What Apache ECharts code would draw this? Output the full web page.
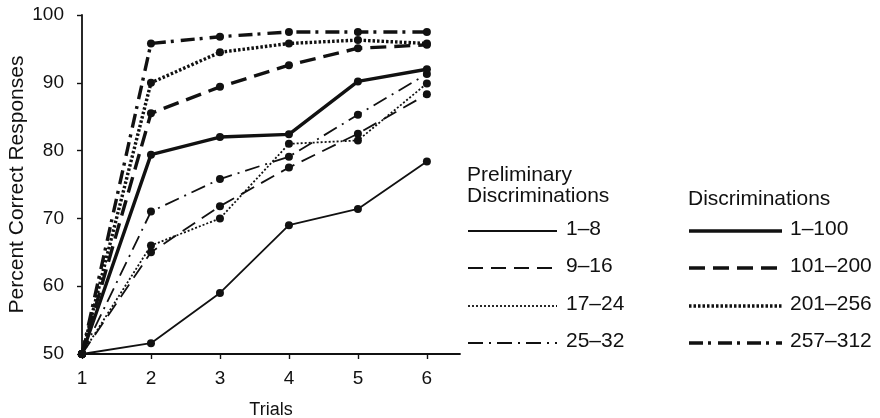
<!DOCTYPE html>
<html>
<head>
<meta charset="utf-8">
<script src="https://cdn.jsdelivr.net/npm/echarts@6/dist/echarts.min.js"></script>
<style>html,body{margin:0;padding:0;background:#fff}#c{width:880px;height:418px}</style>
</head>
<body>
<div id="c"></div>
<script>
// ---- data ----
const trials = [1, 2, 3, 4, 5, 6];
const yTicks = [50, 60, 70, 80, 90, 100];
const prelim_1_8   = [50, 51.6, 59.0, 69.0, 71.4, 78.4];
const prelim_9_16  = [50, 65.0, 71.8, 77.5, 82.5, 88.3];
const prelim_17_24 = [50, 66.0, 70.0, 81.0, 81.5, 89.9];
const prelim_25_32 = [50, 71.0, 75.8, 79.1, 85.3, 91.3];
const disc_1_100   = [50, 79.4, 82.0, 82.4, 90.2, 92.0];
const disc_101_200 = [50, 85.5, 89.4, 92.6, 95.1, 95.6];
const disc_201_256 = [50, 90.0, 94.5, 95.8, 96.3, 95.8];
const disc_257_312 = [50, 95.8, 96.8, 97.5, 97.5, 97.5];
const prelimNames = ['1–8', '9–16', '17–24', '25–32'];
const discNames = ['1–100', '101–200', '201–256', '257–312'];

const INK = '#111';
const FONT = 'Liberation Sans, Arial, sans-serif';
const thin = 1.8, thick = 3.4;
const dashes = {
  solid: 'solid',
  dashedThin: [15, 8],
  dashedThick: [16, 8],
  dottedThin: [2, 2],
  dottedThick: [2.5, 2],
  dashDotThin: [15, 6, 2, 6],
  dashDotThick: [14, 5, 3, 7]
};
const seriesDefs = [
  {name: 'Preliminary ' + prelimNames[0], data: prelim_1_8, w: thin, t: dashes.solid},
  {name: 'Preliminary ' + prelimNames[1], data: prelim_9_16, w: thin, t: dashes.dashedThin},
  {name: 'Preliminary ' + prelimNames[2], data: prelim_17_24, w: thin, t: dashes.dottedThin},
  {name: 'Preliminary ' + prelimNames[3], data: prelim_25_32, w: thin, t: dashes.dashDotThin},
  {name: 'Discriminations ' + discNames[0], data: disc_1_100, w: thick, t: dashes.solid},
  {name: 'Discriminations ' + discNames[1], data: disc_101_200, w: thick, t: dashes.dashedThick},
  {name: 'Discriminations ' + discNames[2], data: disc_201_256, w: thick, t: dashes.dottedThick},
  {name: 'Discriminations ' + discNames[3], data: disc_257_312, w: thick, t: dashes.dashDotThick}
];

const series = seriesDefs.map(d => ({
  type: 'line',
  name: d.name,
  data: trials.map((t, i) => [t, d.data[i]]),
  symbol: 'circle',
  symbolSize: 8,
  showSymbol: true,
  itemStyle: {color: INK},
  lineStyle: {color: INK, width: d.w, type: d.t},
  clip: false,
  animation: false
}));

// legend drawn as graphic
const LFS = 21;
const graphics = [];
const txt = (x, y, s) => ({type: 'text', left: x, top: y, style: {text: s, fill: INK, font: LFS + 'px ' + FONT}});
graphics.push(txt(467, 165, 'Preliminary'));
graphics.push(txt(467, 186, 'Discriminations'));
graphics.push(txt(688, 189, 'Discriminations'));
const rowY = [231, 268, 306, 343];
const leftDash = [dashes.solid, dashes.dashedThin, dashes.dottedThin, dashes.dashDotThin];
const rightDash = [dashes.solid, dashes.dashedThick, dashes.dottedThick, dashes.dashDotThick];
rowY.forEach((y, i) => {
  graphics.push({type: 'line', shape: {x1: 468, y1: y, x2: 557, y2: y},
    style: {stroke: INK, lineWidth: thin, lineDash: leftDash[i] === 'solid' ? null : leftDash[i]}});
  graphics.push(txt(566, y - 12, prelimNames[i]));
  graphics.push({type: 'line', shape: {x1: 689, y1: y, x2: 782, y2: y},
    style: {stroke: INK, lineWidth: thick, lineDash: rightDash[i] === 'solid' ? null : rightDash[i]}});
  graphics.push(txt(790, y - 12, discNames[i]));
});

const chart = echarts.init(document.getElementById('c'), null, {renderer: 'canvas'});
chart.setOption({
  animation: false,
  backgroundColor: '#fff',
  grid: {left: 82, right: 420, top: 15, bottom: 64, containLabel: false, outerBoundsMode: 'none'},
  xAxis: {
    type: 'value', min: 1, max: 6.48, interval: 1,
    name: 'Trials', nameLocation: 'middle', nameGap: 47,
    nameTextStyle: {color: INK, fontSize: 18, fontFamily: FONT},
    axisLine: {show: true, onZero: false, lineStyle: {color: INK, width: 1.8}},
    axisTick: {show: true, length: 5, customValues: trials, lineStyle: {color: INK, width: 1.4}},
    axisLabel: {customValues: trials, color: INK, fontSize: 19, fontFamily: FONT, margin: 15},
    splitLine: {show: false}
  },
  yAxis: {
    type: 'value', min: 50, max: 100, interval: 10,
    name: 'Percent Correct Responses', nameLocation: 'middle', nameGap: 54, nameRotate: 90,
    nameTextStyle: {color: INK, fontSize: 21, fontFamily: FONT},
    axisLine: {show: true, onZero: false, lineStyle: {color: INK, width: 1.8}},
    axisTick: {show: true, length: 5, customValues: yTicks, lineStyle: {color: INK, width: 1.4}},
    axisLabel: {customValues: yTicks, color: INK, fontSize: 19, fontFamily: FONT, margin: 18},
    splitLine: {show: false}
  },
  series: series,
  graphic: graphics
});
</script>
</body>
</html>
